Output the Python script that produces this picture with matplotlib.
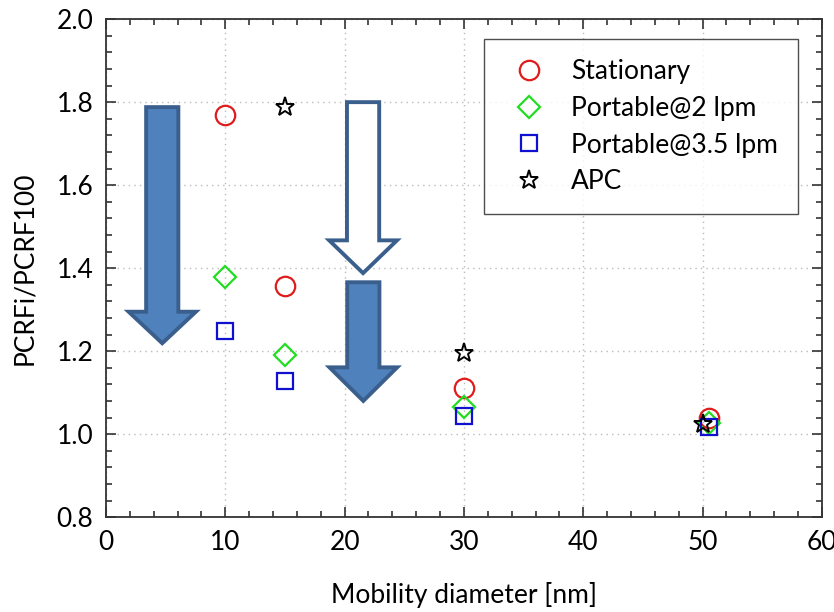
import matplotlib
matplotlib.use("Agg")
import matplotlib.pyplot as plt
from matplotlib.patches import Polygon
from matplotlib.ticker import MultipleLocator

plt.rcParams['font.family'] = ['Lato', 'DejaVu Sans']

# data
x_stat = [10, 15, 30, 50.5]
y_stat = [1.77, 1.357, 1.11, 1.04]
x_p2 = [10, 15, 30, 50.5]
y_p2 = [1.378, 1.19, 1.066, 1.028]
x_p35 = [10, 15, 30, 50.5]
y_p35 = [1.248, 1.128, 1.043, 1.018]
x_apc = [15, 30, 50]
y_apc = [1.788, 1.196, 1.024]

labels = ["Stationary", "Portable@2 lpm", "Portable@3.5 lpm", "APC"]

# annotation arrows: (center x, shaft half width, head half width, top y, head start y, tip y, filled)
arrows = [
    (4.72, 1.35, 2.82, 1.788, 1.295, 1.219, True),
    (21.55, 1.35, 2.84, 1.800, 1.467, 1.388, False),
    (21.57, 1.35, 2.84, 1.366, 1.161, 1.080, True),
]

fig = plt.figure(figsize=(8.34, 6.12), dpi=100)
ax = fig.add_axes([0.127, 0.155, 0.8585, 0.8137])

for cx, sw, hw, top, hs, tip, filled in arrows:
    pts = [(cx - sw, top), (cx + sw, top), (cx + sw, hs), (cx + hw, hs),
           (cx, tip), (cx - hw, hs), (cx - sw, hs)]
    ax.add_patch(Polygon(pts, closed=True, facecolor='#4F81BD' if filled else 'white',
                         edgecolor='#3A5F8C', linewidth=2.8, joinstyle='miter', zorder=2))

ax.plot(x_stat, y_stat, 'o', ms=14, mfc='none', mec='#e01b1b', mew=1.6, label=labels[0], zorder=3)
ax.plot(x_p2, y_p2, 'D', ms=11, mfc='none', mec='#22dd22', mew=1.6, label=labels[1], zorder=3)
ax.plot(x_p35, y_p35, 's', ms=12, mfc='none', mec='#1010d0', mew=1.6, label=labels[2], zorder=3)
ax.plot(x_apc, y_apc, '*', ms=14, mfc='none', mec='black', mew=1.4, label=labels[3], zorder=4)

ax.set_xlim(0, 60)
ax.set_ylim(0.8, 2.0)
ax.xaxis.set_major_locator(MultipleLocator(10))
ax.xaxis.set_minor_locator(MultipleLocator(2))
ax.yaxis.set_major_locator(MultipleLocator(0.2))
ax.yaxis.set_minor_locator(MultipleLocator(0.04))
ax.yaxis.set_major_formatter(matplotlib.ticker.FormatStrFormatter('%.1f'))
ax.tick_params(which='both', direction='in', top=True, right=True, labelsize=19, width=1.2, color='#333333')
ax.tick_params(which='major', length=7, pad=9)
ax.tick_params(which='minor', length=4)
for s in ax.spines.values():
    s.set_linewidth(1.3)
    s.set_color('#333333')
ax.grid(True, which='major', linestyle=(0, (1, 3)), color='#bbbbbb', linewidth=1)
ax.set_axisbelow(True)

ax.set_xlabel("Mobility diameter [nm]", fontsize=19, labelpad=20)
ax.set_ylabel("PCRFi/PCRF100", fontsize=19, labelpad=14)

leg = ax.legend(loc='upper right', bbox_to_anchor=(0.9665, 0.960), borderaxespad=0,
                fontsize=19, frameon=True, fancybox=False, edgecolor='#222222',
                handletextpad=0.65, borderpad=0.75, labelspacing=0.45, handlelength=1.9)
leg.get_frame().set_linewidth(1.0)

fig.savefig("out.png", dpi=100)
